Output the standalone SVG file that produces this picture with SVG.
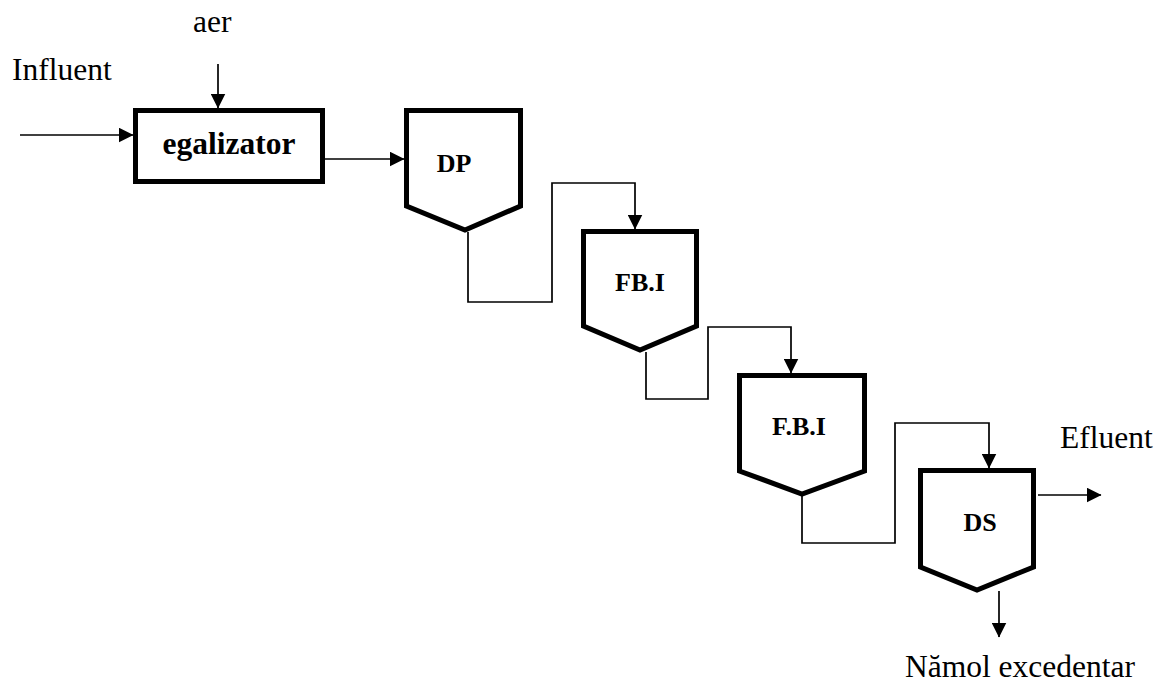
<svg xmlns="http://www.w3.org/2000/svg" width="1157" height="682" viewBox="0 0 1157 682">
<style>
.lbl{font-family:"Liberation Serif","Times New Roman",serif;font-size:31.5px;fill:#000}
.node{fill:#fff;stroke:#000;stroke-width:5;stroke-linejoin:miter}
.ntxt{font-family:"Liberation Serif","Times New Roman",serif;font-weight:bold;font-size:26px;fill:#000;text-anchor:middle}
.conn{fill:none;stroke:#000;stroke-width:1.7}
</style>
<defs>
<marker id="arr" markerUnits="userSpaceOnUse" markerWidth="15" markerHeight="15" refX="14.5" refY="7.5" orient="auto">
<path d="M0,0 L15,7.5 L0,15 Z" fill="#000"/>
</marker>
</defs>
<rect width="1157" height="682" fill="#fff"/>
<g id="labels">
<text class="lbl" x="12" y="80">Influent</text>
<text class="lbl" x="193" y="32">aer</text>
<text class="lbl" x="1060" y="448">Efluent</text>
<text class="lbl" x="905" y="677">Nămol excedentar</text>
</g>
<g id="connectors">
<path class="conn" d="M20,135 L133,135" marker-end="url(#arr)"/>
<path class="conn" d="M218,64 L218,108" marker-end="url(#arr)"/>
<path class="conn" d="M325,159 L404,159" marker-end="url(#arr)"/>
<path class="conn" d="M468,232 L468,302 L552,302 L552,183 L635,183 L635,229" marker-end="url(#arr)"/>
<path class="conn" d="M646,352 L646,399 L708,399 L708,327 L791,327 L791,373" marker-end="url(#arr)"/>
<path class="conn" d="M802,496 L802,543 L895,543 L895,423 L989,423 L989,468" marker-end="url(#arr)"/>
<path class="conn" d="M1038,495 L1101,495" marker-end="url(#arr)"/>
<path class="conn" d="M999,591 L999,637" marker-end="url(#arr)"/>
</g>
<g id="egalizator">
<rect class="node" x="135.5" y="110.5" width="187" height="71"/>
<text class="ntxt" x="229" y="154" style="font-size:31.5px">egalizator</text>
</g>
<g id="DP">
<path class="node" d="M406.5,110.5 L520.5,110.5 L520.5,206 L465,230 L406.5,206 Z"/>
<text class="ntxt" x="454" y="172">DP</text>
</g>
<g id="FBI1">
<path class="node" d="M583.5,231.5 L696.5,231.5 L696.5,326 L640,350 L583.5,326 Z"/>
<text class="ntxt" x="640" y="291">FB.I</text>
</g>
<g id="FBI2">
<path class="node" d="M739.5,375.5 L864.5,375.5 L864.5,471 L802,494 L739.5,471 Z"/>
<text class="ntxt" x="799" y="435">F.B.I</text>
</g>
<g id="DS">
<path class="node" d="M920.5,470.5 L1033.5,470.5 L1033.5,567 L977,590 L920.5,567 Z"/>
<text class="ntxt" x="980" y="531">DS</text>
</g>
</svg>
